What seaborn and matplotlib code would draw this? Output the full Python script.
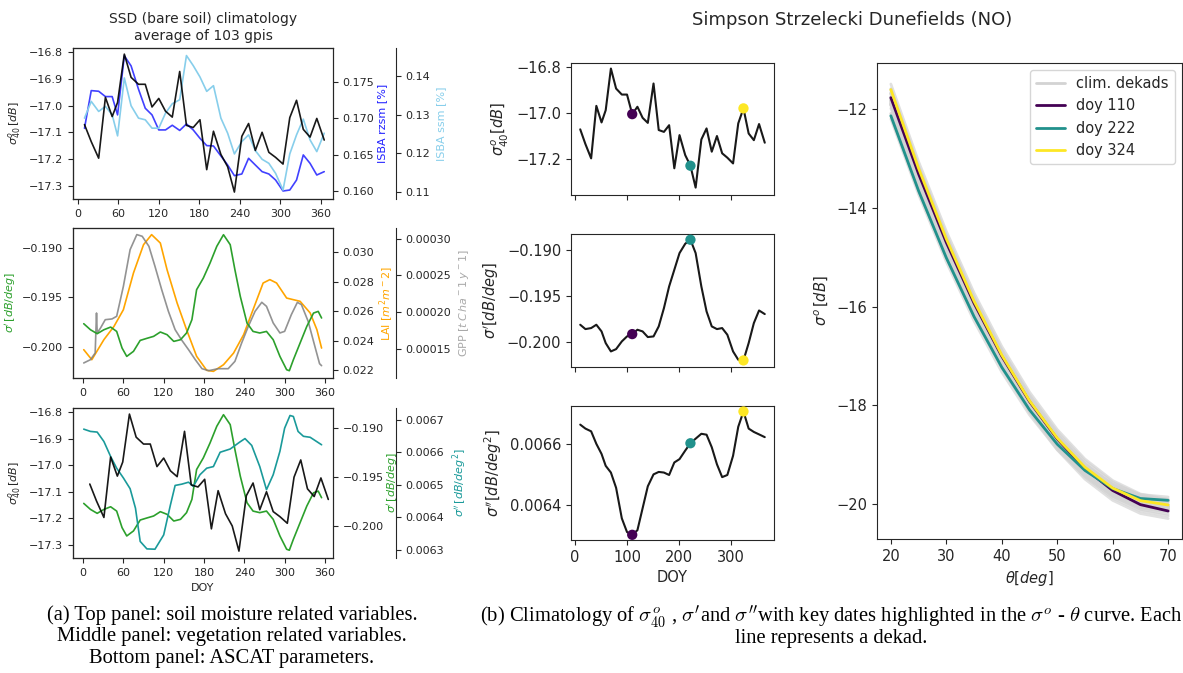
import numpy as np
import matplotlib
matplotlib.use('Agg')
import matplotlib.pyplot as plt
from matplotlib import cm
import seaborn as sns

# ---------------- data ----------------
dekad_doy = [10, 20, 31, 41, 51, 59, 69, 79, 90, 100, 110, 120, 130, 140, 151, 161, 171, 181,
             191, 201, 212, 222, 232, 243, 253, 263, 273, 283, 293, 304, 314, 324, 334, 344, 354, 365]

sig40 = [-17.071, -17.135, -17.197, -16.969, -17.041, -16.988, -16.807, -16.894, -16.920, -16.920,
         -17.005, -16.973, -17.021, -17.043, -16.872, -17.074, -17.082, -17.053, -17.240, -17.096,
         -17.183, -17.229, -17.324, -17.115, -17.067, -17.168, -17.100, -17.175, -17.194, -17.219,
         -17.045, -16.980, -17.089, -17.118, -17.048, -17.129]

slope_dekad = [-0.19809, -0.19856, -0.19845, -0.19809, -0.19881, -0.20007, -0.20097, -0.20072,
               -0.19989, -0.19935, -0.19910, -0.19863, -0.19881, -0.19942, -0.19935, -0.19827,
               -0.19630, -0.19396, -0.19216, -0.19036, -0.18935, -0.18892, -0.19036, -0.19396,
               -0.19665, -0.19827, -0.19856, -0.19845, -0.19917, -0.20097, -0.20187, -0.20194,
               -0.20007, -0.19791, -0.19655, -0.19694]

curv_dekad = [0.006663, 0.006650, 0.006641, 0.006600, 0.006567, 0.006528, 0.006506, 0.006456,
              0.006356, 0.006311, 0.006302, 0.006317, 0.006389, 0.006461, 0.006500, 0.006508,
              0.006506, 0.006498, 0.006539, 0.006550, 0.006578, 0.006602, 0.006617, 0.006633,
              0.006630, 0.006589, 0.006533, 0.006491, 0.006498, 0.006561, 0.006656, 0.006706,
              0.006650, 0.006639, 0.006631, 0.006622]

rzsm = [0.16859, 0.17376, 0.17367, 0.17294, 0.17294, 0.17043, 0.17852, 0.17715, 0.17395, 0.17134,
        0.17043, 0.16837, 0.16837, 0.16901, 0.16830, 0.16919, 0.16837, 0.16722, 0.16622, 0.16617,
        0.16480, 0.16356, 0.16210, 0.16233, 0.16448, 0.16356, 0.16265, 0.16233, 0.16150, 0.16000,
        0.16013, 0.16150, 0.16494, 0.16379, 0.16219, 0.16265]

ssm = [0.12908, 0.13338, 0.13080, 0.13209, 0.12994, 0.12452, 0.13940, 0.13226, 0.12908, 0.12865,
       0.12650, 0.12650, 0.13037, 0.13278, 0.13381, 0.14516, 0.14258, 0.13966, 0.13596, 0.13742,
       0.12908, 0.12521, 0.11988, 0.12306, 0.12478, 0.12074, 0.11851, 0.11747, 0.11489, 0.11060,
       0.11988, 0.12478, 0.12882, 0.12349, 0.12048, 0.12521]

slope_doy = [1, 11, 21, 31, 41, 50, 58, 65, 75, 85, 95, 105, 115, 125, 135, 145, 154, 162, 169,
             179, 189, 199, 209, 219, 226, 234, 244, 253, 263, 273, 283, 293, 303, 307, 313, 323,
             333, 343, 350, 355]
slope_daily = [-0.19767, -0.19828, -0.19868, -0.19828, -0.19801, -0.19845, -0.20013, -0.20098,
               -0.20047, -0.19936, -0.19915, -0.19895, -0.19851, -0.19878, -0.19946, -0.19929,
               -0.19861, -0.19726, -0.19422, -0.19304, -0.19152, -0.18983, -0.18865, -0.18966,
               -0.19220, -0.19490, -0.19760, -0.19845, -0.19861, -0.19845, -0.19929, -0.20098,
               -0.20233, -0.20243, -0.20132, -0.19963, -0.19794, -0.19659, -0.19642, -0.19709]

lai_doy = [1, 13, 31, 46, 60, 75, 90, 102, 115, 125, 140, 154, 169, 184, 194, 209, 224, 239, 253,
           268, 278, 288, 303, 323, 338, 348, 355]
lai = [0.02340, 0.02272, 0.02408, 0.02498, 0.02611, 0.02860, 0.03052, 0.03120, 0.03063, 0.02882,
       0.02656, 0.02476, 0.02295, 0.02200, 0.02193, 0.02238, 0.02317, 0.02442, 0.02611, 0.02792,
       0.02815, 0.02792, 0.02690, 0.02668, 0.02589, 0.02476, 0.02351]

gpp_doy = [1, 11, 18, 20, 21, 26, 33, 43, 50, 60, 70, 80, 88, 98, 107, 117, 127, 137, 147, 157,
           167, 177, 187, 201, 216, 226, 236, 246, 256, 266, 273, 283, 293, 300, 310, 319, 325,
           335, 345, 352, 355]
gpp = [0.0001305, 0.0001350, 0.0001441, 0.0001986, 0.0001714, 0.0001782, 0.0001895, 0.0001905,
       0.0001941, 0.0002350, 0.0002850, 0.0003055, 0.0003032, 0.0002895, 0.0002623, 0.0002305,
       0.0002009, 0.0001759, 0.0001614, 0.0001486, 0.0001350, 0.0001227, 0.0001200, 0.0001227,
       0.0001227, 0.0001327, 0.0001577, 0.0001805, 0.0002009, 0.0002132, 0.0002077, 0.0001850,
       0.0001714, 0.0001736, 0.0001964, 0.0002132, 0.0002100, 0.0001873, 0.0001532, 0.0001295,
       0.0001268]

curv_doy = [1, 11, 21, 31, 41, 50, 60, 70, 78, 85, 95, 107, 120, 130, 137, 147, 157, 164, 174,
            184, 194, 204, 219, 233, 241, 251, 263, 273, 283, 293, 300, 308, 313, 320, 328, 338, 355]
curv_daily = [0.006671, 0.006664, 0.006662, 0.006633, 0.006587, 0.006551, 0.006521, 0.006488,
              0.006428, 0.006326, 0.006303, 0.006302, 0.006346, 0.006438, 0.006498, 0.006502,
              0.006508, 0.006495, 0.006531, 0.006551, 0.006556, 0.006600, 0.006610, 0.006631,
              0.006642, 0.006621, 0.006556, 0.006485, 0.006531, 0.006603, 0.006674, 0.006713,
              0.006710, 0.006664, 0.006649, 0.006646, 0.006623]

key_doys = [110, 222, 324]
theta = [20, 25, 30, 35, 40, 45, 50, 55, 60, 65, 70]

# ---------------- style ----------------
sns.set_style('ticks')
plt.rcParams['font.family'] = ['DejaVu Sans']
plt.rcParams['mathtext.fontset'] = 'dejavusans'
TXT = '#262626'

fig = plt.figure(figsize=(11.83, 6.73), dpi=100)
W, H = 1183, 673


def rect(l, r, t, b):
    return [l / W, (H - b) / H, (r - l) / W, (b - t) / H]


SMALL = 8.0
LAB = 8.0
BIG = 10.5
C_BLUE = '#2020ff'
C_SKY = '#87ceeb'
C_GREEN = '#2ca02c'
C_TEAL = '#1a9a9a'
C_ORANGE = 'orange'
C_GRAY = 'gray'


def line(ax, x, y, color, lw=1.2, alpha=1.0, **kw):
    sns.lineplot(x=x, y=y, ax=ax, color=color, lw=lw, alpha=alpha,
                 estimator=None, sort=False, **kw)


def third_axis(ax):
    a = ax.twinx()
    a.spines['right'].set_position(('axes', 1.242))
    return a


# ---- left top ----
axA = fig.add_axes(rect(73, 333, 48, 199))
axA2 = axA.twinx()
axA3 = third_axis(axA)
line(axA2, dekad_doy, rzsm, C_BLUE, alpha=0.85)
line(axA3, dekad_doy, ssm, C_SKY)
line(axA, dekad_doy, sig40, 'k', alpha=0.9)
axA.set_zorder(3); axA.patch.set_visible(False)
axA.set_ylim(-17.35, -16.784)
axA.set_yticks([-16.8, -16.9, -17.0, -17.1, -17.2, -17.3])
axA2.set_ylim(0.1589, 0.1796)
axA2.set_yticks([0.160, 0.165, 0.170, 0.175])
axA3.set_ylim(0.1083, 0.1471)
axA3.set_yticks([0.11, 0.12, 0.13, 0.14])
axA.set_ylabel(r'$\sigma^o_{40}\,[dB]$', fontsize=LAB)
axA2.set_ylabel('ISBA rzsm [%]', color=C_BLUE, fontsize=LAB, labelpad=2)
axA3.set_ylabel('ISBA ssm [%]', color=C_SKY, fontsize=LAB)
axA.set_xlim(-7, 378)
axA.set_title('SSD (bare soil) climatology\naverage of 103 gpis', fontsize=10, pad=6)

# ---- left middle ----
axB = fig.add_axes(rect(73, 333, 228, 378))
axB2 = axB.twinx()
axB3 = third_axis(axB)
line(axB3, gpp_doy, gpp, C_GRAY, alpha=0.85)
line(axB2, lai_doy, lai, C_ORANGE)
line(axB, slope_doy, slope_daily, C_GREEN)
axB.set_zorder(3); axB.patch.set_visible(False)
axB.set_ylim(-0.20317, -0.18797)
axB.set_yticks([-0.190, -0.195, -0.200])
axB2.set_ylim(0.02148, 0.03165)
axB2.set_yticks([0.022, 0.024, 0.026, 0.028, 0.030])
axB3.set_ylim(0.000110, 0.0003145)
axB3.set_yticks([0.00015, 0.00020, 0.00025, 0.00030])
axB.set_ylabel(r"$\sigma'\,[dB/deg]$", color=C_GREEN, fontsize=LAB, labelpad=3)
axB2.set_ylabel(r'LAI [$m^2 m^-2$]', color=C_ORANGE, fontsize=LAB, labelpad=2)
axB3.set_ylabel(r'GPP [$t\,C\,ha^-1\,y^-1$]', color='darkgray', fontsize=LAB)
axB.set_xlim(-15, 372)

# ---- left bottom ----
axC = fig.add_axes(rect(73, 333, 408, 558))
axC2 = axC.twinx()
axC3 = third_axis(axC)
line(axC3, curv_doy, curv_daily, C_TEAL)
line(axC2, slope_doy, slope_daily, C_GREEN)
line(axC, dekad_doy, sig40, 'k', alpha=0.9)
axC.set_zorder(3); axC.patch.set_visible(False)
axC.set_ylim(-17.35, -16.784)
axC.set_yticks([-16.8, -16.9, -17.0, -17.1, -17.2, -17.3])
axC2.set_ylim(-0.20322, -0.18797)
axC2.set_yticks([-0.190, -0.195, -0.200])
axC3.set_ylim(0.006275, 0.006736)
axC3.set_yticks([0.0063, 0.0064, 0.0065, 0.0066, 0.0067])
axC.set_ylabel(r'$\sigma^o_{40}\,[dB]$', fontsize=LAB)
axC2.set_ylabel(r"$\sigma'\,[dB/deg]$", color=C_GREEN, fontsize=LAB, labelpad=1)
axC3.set_ylabel(r"$\sigma''\,[dB/deg^2]$", color=C_TEAL, fontsize=LAB)
axC.set_xlim(-15, 372)
axC.set_xlabel('DOY', fontsize=SMALL)

for a in [axA, axB, axC]:
    a.set_xticks([0, 60, 120, 180, 240, 300, 360])
for a in [axA, axA2, axA3, axB, axB2, axB3, axC, axC2, axC3]:
    a.tick_params(labelsize=SMALL, length=3.5)

# ---- middle column ----
viridis = cm.get_cmap('viridis')
key_cols = [viridis(v) for v in np.linspace(0, 1, len(key_doys))]
idx = [dekad_doy.index(d) for d in key_doys]

axD = fig.add_axes(rect(571, 774, 63, 195))
axE = fig.add_axes(rect(571, 774, 234, 367), sharex=axD)
axF = fig.add_axes(rect(571, 774, 406, 540), sharex=axD)
for a, arr, lab, ticks in [(axD, sig40, r'$\sigma^o_{40}[dB]$', [-16.8, -17.0, -17.2]),
                           (axE, slope_dekad, r"$\sigma'[dB/deg]$", [-0.190, -0.195, -0.200]),
                           (axF, curv_dekad, r"$\sigma''[dB/deg^2]$", [0.0064, 0.0066])]:
    line(a, dekad_doy, arr, 'k', lw=1.5, alpha=0.9)
    sns.scatterplot(x=key_doys, y=[arr[i] for i in idx], ax=a, color=key_cols,
                    s=55, edgecolor='none', zorder=4, legend=False)
    a.set_ylabel(lab, fontsize=BIG)
    a.set_yticks(ticks)
    a.tick_params(labelsize=BIG, length=3.5)
axD.set_yticklabels(['−16.8', '−17.0', '−17.2'])
axD.tick_params(labelbottom=False)
axE.tick_params(labelbottom=False)
axF.set_xticks([0, 100, 200, 300])
axF.set_xlabel('DOY', fontsize=BIG)
axD.set_ylim(-17.356, -16.783)
axE.set_ylim(-0.20265, -0.18830)
axF.set_ylim(0.006285, 0.006724)

# ---- right panel: sigma0 - theta curves ----
axG = fig.add_axes(rect(877, 1182, 63, 539))
th = np.array(theta, dtype=float)
for k in range(len(dekad_doy)):
    s0 = sig40[k] + slope_dekad[k] * (th - 40) + 0.5 * curv_dekad[k] * (th - 40) ** 2
    line(axG, theta, s0, 'lightgray', lw=2.0, alpha=0.7,
         label='clim. dekads' if k == 0 else None)
for d, i, c in zip(key_doys, idx, key_cols):
    s0 = sig40[i] + slope_dekad[i] * (th - 40) + 0.5 * curv_dekad[i] * (th - 40) ** 2
    line(axG, theta, s0, c, lw=2.0, label=f'doy {d}')
axG.set_xlim(17.5, 72.5)
axG.set_ylim(-20.71, -11.06)
axG.set_xticks([20, 30, 40, 50, 60, 70])
axG.set_yticks([-12, -14, -16, -18, -20])
axG.tick_params(labelsize=BIG, length=3.5)
axG.set_xlabel(r'$\theta[deg]$', fontsize=BIG)
axG.set_ylabel(r'$\sigma^o\,[dB]$', fontsize=BIG)
leg = axG.legend(loc='upper right', fontsize=BIG, frameon=True)
for h in leg.get_lines():
    h.set_alpha(1)
    h.set_linewidth(2)

fig.text(852 / W, 1 - 20 / H, 'Simpson Strzelecki Dunefields (NO)', ha='center', va='center',
         fontsize=13, color=TXT)

# ---- captions ----
cap_kw = dict(family='Liberation Serif', math_fontfamily='cm', fontsize=14.8, color='black',
              ha='center', va='center')
fig.text(232 / W, 1 - 615 / H, '(a) Top panel: soil moisture related variables.', **cap_kw)
fig.text(232 / W, 1 - 637 / H, 'Middle panel: vegetation related variables.', **cap_kw)
fig.text(232 / W, 1 - 659 / H, 'Bottom panel: ASCAT parameters.', **cap_kw)
fig.text(831 / W, 1 - 617 / H,
         r"(b) Climatology of $\sigma^o_{40}$ , $\sigma'$and $\sigma''$with key dates highlighted "
         r"in the $\sigma^o$ - $\theta$ curve. Each", **cap_kw)
fig.text(831 / W, 1 - 639 / H, 'line represents a dekad.', **cap_kw)

fig.savefig('out.png', dpi=100)
